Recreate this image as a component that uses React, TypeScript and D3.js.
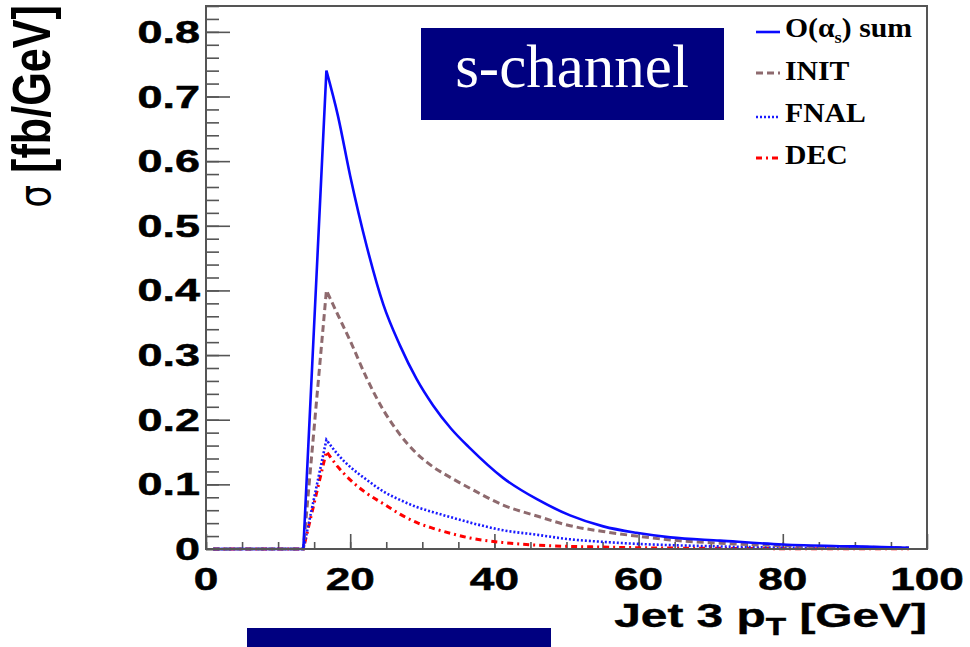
import React, { useEffect, useRef } from 'react'
import * as d3 from 'd3'

// jet 3 pT points (GeV) and cross sections (fb/GeV)
const ptGrid = [1, 13.5, 16.7, 18.3, 20, 22.3, 24.6, 26.9, 29.2, 31.5, 34, 36.6, 41.2, 45.9, 50.5, 55.1, 59.7, 64.4, 71.3, 80, 90, 97.5]
const sumVals = [0, 0, 0.74, 0.67, 0.577, 0.468, 0.378, 0.315, 0.263, 0.222, 0.186, 0.156, 0.11, 0.077, 0.052, 0.035, 0.025, 0.018, 0.013, 0.007, 0.004, 0.002]
const initVals = [0, 0, 0.4, 0.362, 0.322, 0.264, 0.215, 0.177, 0.148, 0.127, 0.11, 0.094, 0.068, 0.051, 0.036, 0.027, 0.02, 0.014, 0.009, 0.005, 0.003, 0.002]
const fnalVals = [0, 0, 0.169, 0.146, 0.127, 0.107, 0.089, 0.076, 0.065, 0.057, 0.049, 0.041, 0.029, 0.022, 0.015, 0.011, 0.008, 0.006, 0.004, 0.002, 0.001, 0.001]
const decVals = [0, 0, 0.151, 0.127, 0.107, 0.086, 0.07, 0.054, 0.041, 0.032, 0.024, 0.017, 0.01, 0.006, 0.004, 0.003, 0.002, 0.0015, 0.001, 0.0005, 0.0003, 0.0002]

const xTicks = [0, 20, 40, 60, 80, 100]
const xTickLabels = ['0', '20', '40', '60', '80', '100']
const yTicks = [0, 0.1, 0.2, 0.3, 0.4, 0.5, 0.6, 0.7, 0.8]
const yTickLabels = ['0', '0.1', '0.2', '0.3', '0.4', '0.5', '0.6', '0.7', '0.8']
const legendLabels = ['O(α) sum', 'INIT', 'FNAL', 'DEC']

const W = 970
const H = 647
const PEAK = 2 // index of the peak in ptGrid

export default function App() {
  const ref = useRef<SVGSVGElement>(null)

  useEffect(() => {
    const svg = d3.select(ref.current)
    svg.selectAll('*').remove()

    const left = 206
    const right = 927
    const top = 6
    const bottom = 549

    const x = d3.scaleLinear().domain([0, 100]).range([left, right])
    const y = d3.scaleLinear().domain([0, 0.84]).range([bottom, top])

    const series = [
      { name: 'sum', vals: sumVals, color: '#0a0aff', dash: null, width: 2.6 },
      { name: 'init', vals: initVals, color: '#8e6a6e', dash: '7,4', width: 3 },
      { name: 'fnal', vals: fnalVals, color: '#1a1aff', dash: '2,2', width: 2.6 },
      { name: 'dec', vals: decVals, color: '#ff0000', dash: '6,4,2,4', width: 3 }
    ]

    // ticks
    const frameG = svg.append('g')
    const yMinorAxis = d3.axisLeft(y).tickValues(d3.range(0, 0.841, 0.02)).tickSize(-13).tickFormat(() => '')
    const yMajorAxis = d3.axisLeft(y).tickValues(yTicks).tickSize(-24).tickFormat(() => '')
    const xMinorAxis = d3.axisBottom(x).tickValues(d3.range(0, 100, 5)).tickSize(-7).tickFormat(() => '')
    const xMajorAxis = d3.axisBottom(x).tickValues(xTicks).tickSize(-15).tickFormat(() => '')

    frameG.append('g').attr('transform', `translate(${left},0)`).call(yMinorAxis)
    frameG.append('g').attr('transform', `translate(${left},0)`).call(yMajorAxis)
    frameG.append('g').attr('transform', `translate(0,${bottom})`).call(xMinorAxis)
    frameG.append('g').attr('transform', `translate(0,${bottom})`).call(xMajorAxis)
    frameG.selectAll('.domain').remove()
    frameG.selectAll('.tick line').attr('stroke', '#555').attr('stroke-width', 1.6)

    // curves: straight rise to the peak, smooth fall after it
    const rise = d3
      .line<[number, number]>()
      .x(d => x(d[0]))
      .y(d => y(d[1]))
    const fall = d3
      .line<[number, number]>()
      .x(d => x(d[0]))
      .y(d => y(d[1]))
      .curve(d3.curveMonotoneX)

    series.slice().reverse().forEach(s => {
      const pts = ptGrid.map((p, i) => [p, s.vals[i]] as [number, number])
      const d1 = rise(pts.slice(0, PEAK + 1))
      const d2 = fall(pts.slice(PEAK))
      svg
        .append('path')
        .attr('d', d1 + 'L' + (d2 as string).slice(1))
        .attr('fill', 'none')
        .attr('stroke', s.color)
        .attr('stroke-width', s.width)
        .attr('stroke-dasharray', s.dash)
    })

    // frame
    svg
      .append('rect')
      .attr('x', left)
      .attr('y', top)
      .attr('width', right - left)
      .attr('height', bottom - top)
      .attr('fill', 'none')
      .attr('stroke', '#555')
      .attr('stroke-width', 2)

    // y tick labels
    yTicks.forEach((v, i) => {
      svg
        .append('g')
        .attr('transform', `translate(200,${y(v) + 11}) scale(1.45,1)`)
        .append('text')
        .attr('text-anchor', 'end')
        .attr('font-family', 'Liberation Sans, Arial, sans-serif')
        .attr('font-weight', 'bold')
        .attr('font-size', 31)
        .attr('fill', '#000')
        .attr('stroke', '#000')
        .attr('stroke-width', 0.5)
        .text(yTickLabels[i])
    })

    // x tick labels
    xTicks.forEach((v, i) => {
      svg
        .append('g')
        .attr('transform', `translate(${x(v)},590) scale(1.38,1)`)
        .append('text')
        .attr('text-anchor', 'middle')
        .attr('font-family', 'Liberation Sans, Arial, sans-serif')
        .attr('font-weight', 'bold')
        .attr('font-size', 32)
        .attr('fill', '#000')
        .attr('stroke', '#000')
        .attr('stroke-width', 0.5)
        .text(xTickLabels[i])
    })

    // x title
    const xt = svg
      .append('g')
      .attr('transform', `translate(${right},627) scale(1.45,1)`)
      .append('text')
      .attr('text-anchor', 'end')
      .attr('font-family', 'Liberation Sans, Arial, sans-serif')
      .attr('font-weight', 'bold')
      .attr('font-size', 33)
      .attr('fill', '#000')
      .attr('stroke', '#000')
      .attr('stroke-width', 0.4)
    xt.append('tspan').text('Jet 3 p')
    xt.append('tspan').attr('font-size', 23).attr('dy', 8).text('T')
    xt.append('tspan').attr('dy', -8).text(' [GeV]')

    // y title
    const yt = svg
      .append('g')
      .attr('transform', `translate(50,5) rotate(-90) scale(1.2,1.5)`)
      .append('text')
      .attr('text-anchor', 'end')
      .attr('font-family', 'Liberation Sans, Arial, sans-serif')
      .attr('font-weight', 'bold')
      .attr('font-size', 36)
      .attr('fill', '#000')
    yt.append('tspan').attr('font-weight', 'normal').attr('font-family', 'DejaVu Sans, sans-serif').attr('font-size', 30).text('σ')
    yt.append('tspan').text(' [fb/GeV]')

    // legend
    const legY = [32, 73, 117, 158]
    const baseY = [37, 80, 122, 164]
    series.forEach((s, i) => {
      svg
        .append('line')
        .attr('x1', 756)
        .attr('x2', 780)
        .attr('y1', legY[i])
        .attr('y2', legY[i])
        .attr('stroke', s.color)
        .attr('stroke-width', s.width)
        .attr('stroke-dasharray', s.dash)
      const t = svg
        .append('g')
        .attr('transform', `translate(785,${baseY[i]}) scale(1.1,1)`)
        .append('text')
        .attr('font-family', 'Liberation Serif, Times New Roman, serif')
        .attr('font-weight', 'bold')
        .attr('font-size', 27)
        .attr('fill', '#000')
      if (i === 0) {
        t.append('tspan').text('O(α')
        t.append('tspan').attr('font-size', 17).attr('dy', 6).text('s')
        t.append('tspan').attr('dy', -6).text(') sum')
      } else {
        t.text(legendLabels[i])
      }
    })

    // slide overlays
    svg.append('rect').attr('x', 421).attr('y', 28).attr('width', 303).attr('height', 92).attr('fill', '#000080')
    svg
      .append('text')
      .attr('x', 572)
      .attr('y', 87)
      .attr('text-anchor', 'middle')
      .attr('font-family', 'Liberation Serif, Times New Roman, serif')
      .attr('font-size', 61)
      .attr('fill', '#fff')
      .text('s-channel')
    svg.append('rect').attr('x', 247).attr('y', 628).attr('width', 304).attr('height', 19).attr('fill', '#000080')
  }, [])

  return (
    <svg
      ref={ref}
      width={W}
      height={H}
      style={{ position: 'absolute', left: 0, top: 0, background: '#fff', display: 'block' }}
    />
  )
}
